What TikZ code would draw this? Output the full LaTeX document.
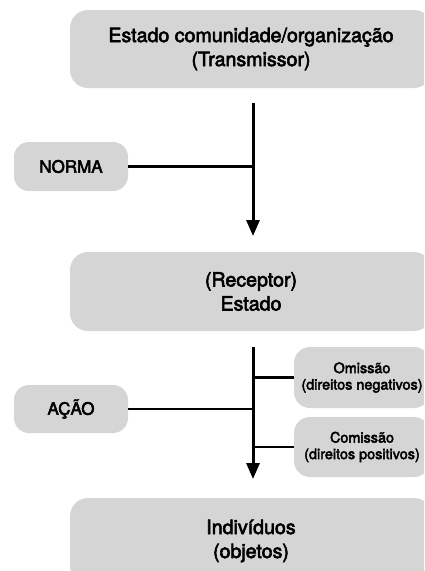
\documentclass[tikz,border=0pt]{standalone}
\usepackage{fontspec}
\setmainfont{TeX Gyre Heros}[FakeBold=3]
\usetikzlibrary{arrows.meta,calc}
\definecolor{boxgray}{RGB}{213,213,213}
\begin{document}
\begin{tikzpicture}[x=1pt,y=-1pt,
  box/.style={fill=boxgray,draw=none,rounded corners=18pt,inner sep=0pt,align=center,
    font=\fontsize{19.6}{24}\selectfont},
  capbox/.style={box,rounded corners=15pt,font=\fontsize{17}{20}\selectfont},
  smallbox/.style={fill=boxgray,draw=none,rounded corners=16pt,inner sep=0pt,align=center,
    font=\fontsize{14.4}{16.5}\selectfont},
  link/.style={line width=2.6pt},
  flow/.style={line width=3pt,-{Triangle[width=13pt,length=16pt]}}]
\useasboundingbox (0,0) rectangle (424,571);
\clip (0,0) rectangle (424,571);
% boxes
\node[box,minimum width=362pt,minimum height=78pt] (trans) at (251,49)
  {Estado comunidade/organização\\(Transmissor)};
\node[box,minimum width=362pt,minimum height=79pt] (rec) at (251,291.5)
  {(Receptor)\\Estado};
\node[box,minimum width=362pt,minimum height=86pt] (ind) at (251,541)
  {Indivíduos\\(objetos)};
\node[capbox,minimum width=114pt,minimum height=49pt] (norma) at (71,166.5) {NORMA};
\node[capbox,minimum width=114pt,minimum height=48pt] (acao) at (71,409) {AÇÃO};
\node[smallbox,minimum width=136pt,minimum height=61pt] (omi) at (362,377.5)
  {Omissão\\(direitos negativos)};
\node[smallbox,minimum width=136pt,minimum height=60pt] (com) at (362,447)
  {Comissão\\(direitos positivos)};
% connectors
\coordinate (s1) at (253,103);
\coordinate (e1) at (253,236);
\coordinate (s2) at (253,347);
\coordinate (e2) at (253,479);
\draw[flow] (s1) -- (e1);
\draw[link] (norma.east) -- (norma.east -| s1);
\draw[flow] (s2) -- (e2);
\draw[link] (acao.east) -- (acao.east -| s2);
\draw[link] (omi.west) -- (omi.west -| s2);
\draw[link] (com.west) -- (com.west -| s2);
\end{tikzpicture}
\end{document}
